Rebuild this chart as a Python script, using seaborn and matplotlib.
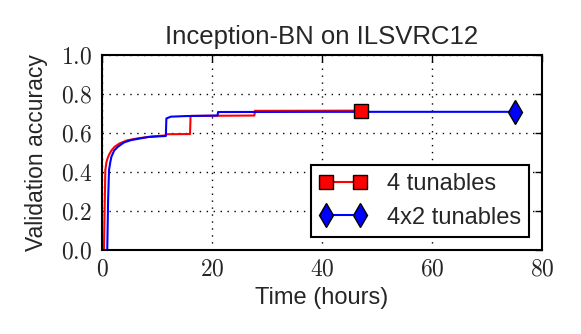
import matplotlib
matplotlib.use("Agg")
import matplotlib.pyplot as plt
from matplotlib.lines import Line2D
from matplotlib.ticker import FuncFormatter
import seaborn as sns
import pandas as pd

# validation accuracy over wall-clock time
time_4 = [0.35, 0.5, 0.6, 0.8, 1.0, 1.3, 1.7, 2.3, 3.2, 4.5, 6.5, 9.0, 11.6, 11.7, 16.0, 16.1, 27.7, 27.8, 47.0]
acc_4 = [0.0, 0.25, 0.41, 0.45, 0.47, 0.49, 0.51, 0.53, 0.547, 0.562, 0.573, 0.582, 0.588, 0.594, 0.595, 0.688, 0.690, 0.714, 0.715]

time_4x2 = [0.95, 1.1, 1.27, 1.5, 1.7, 2.2, 2.9, 4.0, 5.3, 8.4, 11.6, 11.7, 12.5, 15.0, 21.0, 21.1, 40.0, 75.0]
acc_4x2 = [0.0, 0.25, 0.41, 0.45, 0.478, 0.51, 0.53, 0.552, 0.564, 0.58, 0.585, 0.675, 0.684, 0.687, 0.690, 0.708, 0.709, 0.709]

labels = ["4 tunables", "4x2 tunables"]
colors = ["red", "blue"]
markers = ["s", "d"]

df = pd.concat([
    pd.DataFrame({"time": time_4, "acc": acc_4, "run": labels[0]}),
    pd.DataFrame({"time": time_4x2, "acc": acc_4x2, "run": labels[1]}),
])

sns.set_theme(style="white")
plt.rcParams["font.family"] = ["Liberation Sans", "DejaVu Sans"]
plt.rcParams["mathtext.fontset"] = "cm"
plt.rcParams["xtick.direction"] = "in"
plt.rcParams["ytick.direction"] = "in"

fig = plt.figure(figsize=(5.81, 3.34), dpi=100)
ax = fig.add_axes([0.1756, 0.2515, 0.7574, 0.5835])

sns.lineplot(data=df, x="time", y="acc", hue="run", palette=colors,
             estimator=None, sort=True, linewidth=1.5, legend=False, ax=ax)

# end-of-run markers
for lab, col, mk in zip(labels, colors, markers):
    sub = df[df["run"] == lab]
    ax.plot(sub["time"].iloc[-1], sub["acc"].iloc[-1], marker=mk, color=col,
            markeredgecolor="black", markersize=9.5 if mk == "s" else 12,
            markeredgewidth=1)

ax.set_xlim(0, 80)
ax.set_ylim(0, 1.0)
ax.set_xticks([0, 20, 40, 60, 80])
ax.set_yticks([0.0, 0.2, 0.4, 0.6, 0.8, 1.0])
ax.xaxis.set_major_formatter(FuncFormatter(lambda v, p: r"$%d$" % v))
ax.yaxis.set_major_formatter(FuncFormatter(lambda v, p: r"$%.1f$" % v))
ax.tick_params(axis="both", which="major", labelsize=17, length=5, width=1,
               color="black", top=True, right=True)
ax.tick_params(axis="x", pad=6)
ax.tick_params(axis="y", pad=7)
ax.grid(True, linestyle=(0, (1, 4)), color="black", linewidth=1)
for s in ax.spines.values():
    s.set_color("black")
    s.set_linewidth(1.5)

ax.set_title("Inception-BN on ILSVRC12", fontsize=18.5, pad=8)
ax.set_xlabel("Time (hours)", fontsize=17, labelpad=5)
ax.set_ylabel("Validation accuracy", fontsize=16.5, labelpad=9)

handles = [Line2D([0], [0], color=c, marker=m, markeredgecolor="black",
                  markersize=9.5 if m == "s" else 12, linewidth=1.5)
           for c, m in zip(colors, markers)]
leg = ax.legend(handles, labels, loc="lower right", numpoints=2, fontsize=17,
                frameon=True, fancybox=False, framealpha=1, edgecolor="black",
                borderaxespad=0.55, handlelength=2.0, labelspacing=0.5,
                borderpad=0.35, handletextpad=0.85)
leg.get_frame().set_linewidth(1.5)

fig.savefig("out.png", dpi=100)
